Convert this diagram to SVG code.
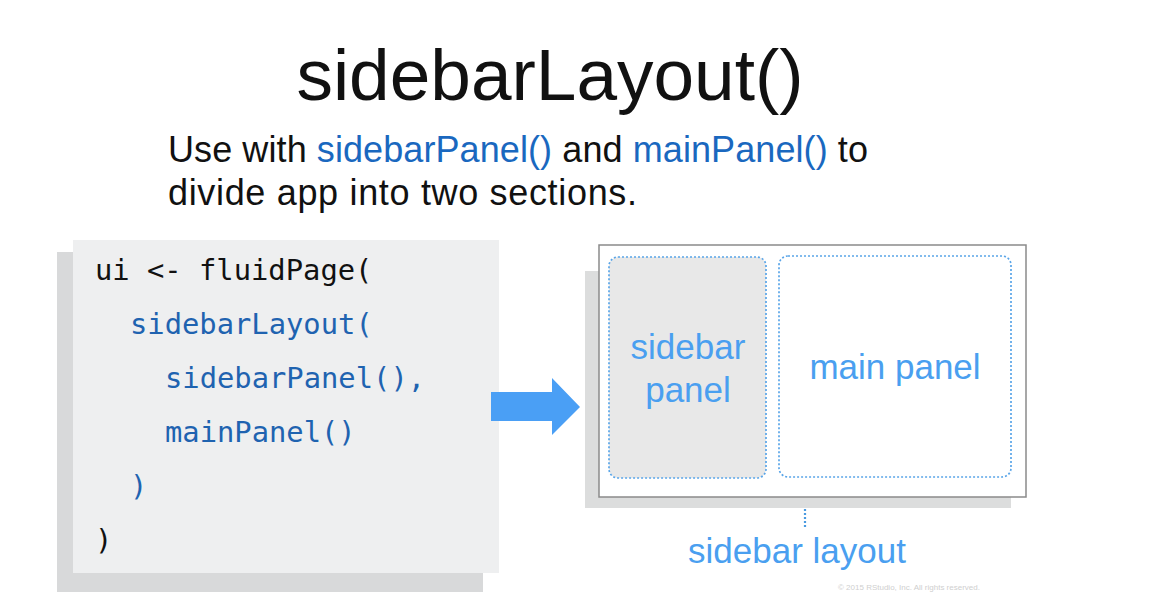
<svg xmlns="http://www.w3.org/2000/svg" width="1153" height="593" viewBox="0 0 1153 593">
<style>
.sans{font-family:"Liberation Sans",Arial,sans-serif}
.mono{font-family:"DejaVu Sans Mono","Liberation Mono",monospace;font-size:28.8px}
.blk{fill:#111111}
.cblue{fill:#1f63b0}
.lblue{fill:#4a9ff0}
.dot{fill:none;stroke:#5aa5e8;stroke-width:1.7;stroke-dasharray:2 2}
</style>
<rect x="0" y="0" width="1153" height="593" fill="#ffffff"/>
<g id="title">
<text class="sans blk" x="550" y="100" font-size="73" text-anchor="middle">sidebarLayout()</text>
</g>
<g id="subtitle">
<text class="sans blk" x="168" y="162" font-size="36" textLength="700" lengthAdjust="spacing">Use with <tspan fill="#1a68bf">sidebarPanel()</tspan> and <tspan fill="#1a68bf">mainPanel()</tspan> to</text>
<text class="sans blk" x="168" y="205" font-size="36" textLength="469" lengthAdjust="spacing">divide app into two sections.</text>
</g>
<g id="code-box">
<rect x="57" y="252" width="426" height="340" fill="#d8d9da"/>
<rect x="73" y="240" width="426" height="333" fill="#eeeff0"/>
<text class="mono blk" x="95" y="280">ui &lt;- fluidPage(</text>
<text class="mono cblue" x="130" y="334">sidebarLayout(</text>
<text class="mono cblue" x="165" y="388">sidebarPanel(),</text>
<text class="mono cblue" x="165" y="442">mainPanel()</text>
<text class="mono cblue" x="130" y="496">)</text>
<text class="mono blk" x="95" y="550">)</text>
</g>
<g id="connectors">
<polygon points="491,392 552,392 552,378 580,407 552,435 552,421 491,421" fill="#4a9ff5"/>
<line x1="805" y1="489" x2="805" y2="527" stroke="#4a9ae0" stroke-width="2.2" stroke-dasharray="2 2"/>
</g>
<g id="layout-frame">
<rect x="585" y="271" width="426" height="237" fill="#dcdddd"/>
<rect x="599" y="245" width="427" height="252" fill="#ffffff" stroke="#8a8a8a" stroke-width="1.5"/>
</g>
<g id="sidebar-panel">
<rect class="dot" x="609" y="257" width="157" height="221" rx="9" style="fill:#e8e8e8"/>
<text class="sans lblue" x="688" y="359" font-size="35" text-anchor="middle">sidebar</text>
<text class="sans lblue" x="688" y="402" font-size="35" text-anchor="middle">panel</text>
</g>
<g id="main-panel">
<rect class="dot" x="779" y="256" width="232" height="221" rx="9"/>
<text class="sans lblue" x="895" y="379" font-size="35" text-anchor="middle">main panel</text>
</g>
<g id="sidebar-layout-label">
<text class="sans lblue" x="797" y="563" font-size="35" text-anchor="middle">sidebar layout</text>
</g>
<text class="sans" x="838" y="590" font-size="8" fill="#cfcfcf">© 2015 RStudio, Inc. All rights reserved.</text>
</svg>
